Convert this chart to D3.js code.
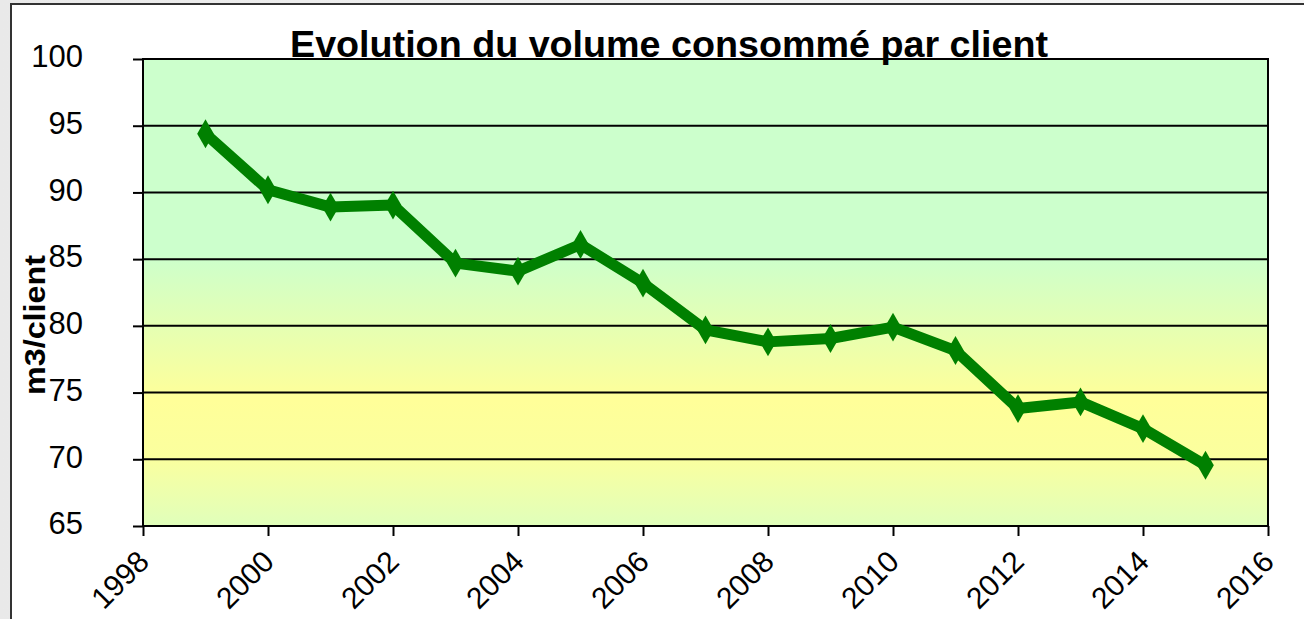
<!DOCTYPE html>
<html lang="fr">
<head>
<meta charset="utf-8">
<title>Evolution du volume consommé par client</title>
<script src="https://cdn.jsdelivr.net/npm/d3@7"></script>
<style>
body { margin: 0; background: #fff; }
text { font-family: "Liberation Sans", Arial, sans-serif; fill: #000; }
</style>
</head>
<body>
<script>
// data
var years = [1999, 2000, 2001, 2002, 2003, 2004, 2005, 2006, 2007, 2008, 2009, 2010, 2011, 2012, 2013, 2014, 2015];
var volumes = [94.4, 90.2, 88.9, 89.05, 84.7, 84.1, 86.1, 83.2, 79.7, 78.8, 79.05, 79.9, 78.15, 73.8, 74.3, 72.3, 69.55];
var xTicks = [1998, 2000, 2002, 2004, 2006, 2008, 2010, 2012, 2014, 2016];
var yTicks = [65, 70, 75, 80, 85, 90, 95, 100];
var title = "Evolution du volume consommé par client";
var yLabel = "m3/client";

var w = 1304, h = 619;
var plotLeft = 143, plotRight = 1268, plotTop = 59, plotBottom = 526;

var svg = d3.select("body").append("svg")
	.attr("width", w)
	.attr("height", h);

var defs = svg.append("defs");

// grey outside the frame
var bgGrad = defs.append("linearGradient").attr("id", "bg").attr("x1", 0).attr("x2", 1).attr("y1", 0).attr("y2", 0);
bgGrad.append("stop").attr("offset", "0%").attr("stop-color", "#e9e9e9");
bgGrad.append("stop").attr("offset", "100%").attr("stop-color", "#f6f6f6");

// plot area fill
var plotGrad = defs.append("linearGradient").attr("id", "plotbg").attr("x1", 0).attr("x2", 0).attr("y1", 0).attr("y2", 1);
plotGrad.append("stop").attr("offset", "0%").attr("stop-color", "#ccffcc");
plotGrad.append("stop").attr("offset", "42%").attr("stop-color", "#ccffcc");
plotGrad.append("stop").attr("offset", "73%").attr("stop-color", "#ffff99");
plotGrad.append("stop").attr("offset", "85%").attr("stop-color", "#fbff9e");
plotGrad.append("stop").attr("offset", "100%").attr("stop-color", "#e0ffbb");

svg.append("rect").attr("x", 0).attr("y", 0).attr("width", w).attr("height", h).attr("fill", "url(#bg)");
svg.append("rect")
	.attr("x", 11).attr("y", 4)
	.attr("width", w + 20).attr("height", h + 20)
	.attr("fill", "#fff")
	.attr("stroke", "#333")
	.attr("stroke-width", 2);

//Scales
var xScale = d3.scaleLinear().domain([1998, 2016]).range([plotLeft, plotRight]);
var yScale = d3.scaleLinear().domain([65, 100]).range([plotBottom, plotTop]);

svg.append("rect")
	.attr("x", plotLeft).attr("y", plotTop)
	.attr("width", plotRight - plotLeft).attr("height", plotBottom - plotTop)
	.attr("fill", "url(#plotbg)");

//Gridlines
svg.append("g").selectAll("line")
	.data(yTicks)
	.enter()
	.append("line")
	.attr("x1", plotLeft).attr("x2", plotRight)
	.attr("y1", function(d) { return yScale(d); })
	.attr("y2", function(d) { return yScale(d); })
	.attr("stroke", "#000")
	.attr("stroke-width", 2);

svg.append("rect")
	.attr("x", plotLeft).attr("y", plotTop)
	.attr("width", plotRight - plotLeft).attr("height", plotBottom - plotTop)
	.attr("fill", "none")
	.attr("stroke", "#000")
	.attr("stroke-width", 2);

//Axes
var yAxis = d3.axisLeft(yScale).tickValues(yTicks).tickSize(10).tickFormat(d3.format("d"));
var gy = svg.append("g")
	.attr("transform", "translate(" + plotLeft + ",0)")
	.call(yAxis);
gy.select(".domain").remove();
gy.selectAll(".tick line").attr("stroke", "#000").attr("stroke-width", 2);
gy.selectAll(".tick text")
	.attr("x", -60)
	.attr("dy", "0.25em")
	.style("font-size", "31px")
	.attr("fill", "#000");

var xAxis = d3.axisBottom(xScale).tickValues(xTicks).tickSize(10).tickFormat(d3.format("d"));
var gx = svg.append("g")
	.attr("transform", "translate(0," + plotBottom + ")")
	.call(xAxis);
gx.select(".domain").remove();
gx.selectAll(".tick line").attr("stroke", "#000").attr("stroke-width", 2);
gx.selectAll(".tick text")
	.attr("y", 0)
	.attr("dy", "0.35em")
	.attr("text-anchor", "end")
	.attr("transform", "translate(0,30) rotate(-45)")
	.style("font-size", "30px")
	.attr("fill", "#000");

//Title
svg.append("text")
	.attr("x", 669)
	.attr("y", 57)
	.attr("text-anchor", "middle")
	.attr("textLength", 758)
	.attr("lengthAdjust", "spacingAndGlyphs")
	.style("font-size", "36px")
	.style("font-weight", "bold")
	.text(title);

//Y label
svg.append("text")
	.attr("transform", "translate(45,325) rotate(-90)")
	.attr("text-anchor", "middle")
	.attr("textLength", 140)
	.attr("lengthAdjust", "spacingAndGlyphs")
	.style("font-size", "30px")
	.style("font-weight", "bold")
	.text(yLabel);

//Line
var line = d3.line()
	.x(function(d, i) { return xScale(years[i]); })
	.y(function(d) { return yScale(d); });

svg.append("path")
	.datum(volumes)
	.attr("d", line)
	.attr("fill", "none")
	.attr("stroke", "#008000")
	.attr("stroke-width", 11)
	.attr("stroke-linejoin", "round");

svg.append("g").selectAll("path")
	.data(volumes)
	.enter()
	.append("path")
	.attr("transform", function(d, i) { return "translate(" + xScale(years[i]) + "," + yScale(d) + ")"; })
	.attr("d", d3.symbol().type(d3.symbolDiamond).size(240))
	.attr("fill", "#008000");
</script>
</body>
</html>
